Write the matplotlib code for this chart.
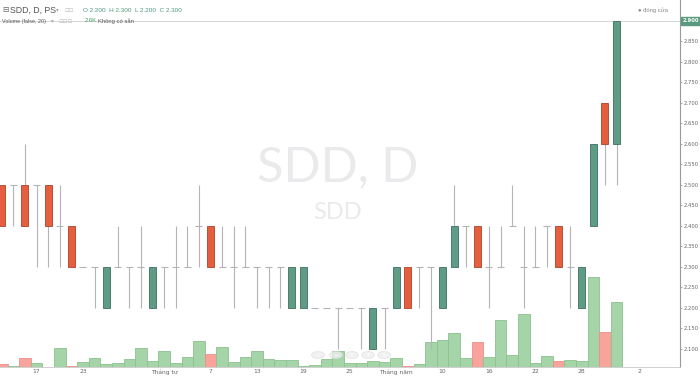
import matplotlib
matplotlib.use("Agg")
import matplotlib.pyplot as plt
from matplotlib.patches import Rectangle, Circle

# daily OHLC (one bar per trading session)
opens = [2.5, 2.5, 2.5, 2.5, 2.5, 2.4, 2.4, 2.3, 2.3, 2.2,
         2.3, 2.3, 2.3, 2.2, 2.3, 2.3, 2.3, 2.4, 2.4, 2.3,
         2.3, 2.3, 2.3, 2.3, 2.3, 2.2, 2.2, 2.2, 2.2, 2.2,
         2.2, 2.2, 2.1, 2.2, 2.2, 2.3, 2.3, 2.3, 2.2, 2.3,
         2.4, 2.4, 2.3, 2.3, 2.4, 2.3, 2.3, 2.4, 2.4, 2.3,
         2.2, 2.4, 2.7, 2.6]
highs = [2.5, 2.5, 2.6, 2.5, 2.5, 2.5, 2.4, 2.3, 2.3, 2.3,
         2.4, 2.3, 2.4, 2.3, 2.3, 2.4, 2.4, 2.5, 2.4, 2.4,
         2.4, 2.4, 2.3, 2.3, 2.3, 2.3, 2.3, 2.2, 2.2, 2.2,
         2.2, 2.2, 2.2, 2.2, 2.3, 2.3, 2.3, 2.3, 2.3, 2.5,
         2.4, 2.4, 2.4, 2.4, 2.5, 2.4, 2.4, 2.4, 2.4, 2.4,
         2.3, 2.6, 2.7, 2.9]
lows = [2.4, 2.4, 2.4, 2.3, 2.3, 2.3, 2.3, 2.3, 2.2, 2.2,
        2.3, 2.2, 2.2, 2.2, 2.2, 2.2, 2.3, 2.3, 2.3, 2.3,
        2.2, 2.3, 2.2, 2.2, 2.2, 2.2, 2.2, 2.2, 2.2, 2.1,
        2.2, 2.1, 2.1, 2.1, 2.2, 2.2, 2.2, 2.1, 2.2, 2.3,
        2.3, 2.3, 2.2, 2.3, 2.4, 2.2, 2.3, 2.3, 2.3, 2.2,
        2.2, 2.4, 2.5, 2.5]
closes = [2.4, 2.5, 2.4, 2.5, 2.4, 2.4, 2.3, 2.3, 2.3, 2.3,
          2.3, 2.3, 2.3, 2.3, 2.3, 2.3, 2.3, 2.4, 2.3, 2.3,
          2.3, 2.3, 2.3, 2.3, 2.3, 2.3, 2.3, 2.2, 2.2, 2.2,
          2.2, 2.2, 2.2, 2.2, 2.3, 2.2, 2.3, 2.3, 2.3, 2.4,
          2.4, 2.3, 2.3, 2.3, 2.4, 2.3, 2.3, 2.4, 2.3, 2.3,
          2.3, 2.6, 2.6, 2.9]
# volume in thousands
volumes = [1.1, 0.5, 3.6, 1.5, 0.2, 7.7, 0.4, 2.1, 3.6, 1.4,
           1.6, 3.3, 7.8, 2.6, 6.4, 1.8, 4.1, 10.7, 5.3, 8.2,
           2.1, 4.1, 6.4, 3.2, 2.9, 2.9, 0.5, 0.9, 3.3, 6.6,
           1.5, 1.6, 2.3, 2.1, 3.7, 0.5, 1.2, 10.1, 10.9, 13.7,
           3.6, 10.3, 4.0, 19.1, 4.9, 21.7, 1.5, 4.4, 2.3, 2.9,
           2.6, 36.9, 14.4, 26.5]

tick_pos = [3, 7, 14, 18, 22, 26, 30, 34, 38, 42, 46, 50, 55]
tick_labels = ['17', '23', 'Tháng tư', '7', '13', '19', '25', 'Tháng năm',
               '10', '16', '22', '28', '2']
price_ticks = [2.10, 2.15, 2.20, 2.25, 2.30, 2.35, 2.40, 2.45, 2.50,
               2.55, 2.60, 2.65, 2.70, 2.75, 2.80, 2.85]

UP = '#5f9c86'
UP_EDGE = '#3e6f5d'
DOWN = '#e55f3e'
DOWN_EDGE = '#a9432a'
WICK = '#b4b4b8'
VOL_UP = '#a6d4a9'
VOL_UP_EDGE = '#8cc290'
VOL_DOWN = '#f9a39d'
HDR_FONT = ['Liberation Sans', 'DejaVu Sans']

W, H = 700, 376
fig = plt.figure(figsize=(7.0, 3.76), dpi=100)
pos = [0, 9 / H, 680 / W, 367 / H]

ax_v = fig.add_axes(pos)
ax = fig.add_axes(pos, sharex=ax_v)
ax.patch.set_visible(False)

n = len(closes)
xs = list(range(n))

# volume
vcols = [VOL_UP if c >= o else VOL_DOWN for o, c in zip(opens, closes)]
vedges = [VOL_UP_EDGE if c >= o else '#ef8f88' for o, c in zip(opens, closes)]
ax_v.bar(xs, volumes, width=1.0, color=vcols, edgecolor=vedges, linewidth=0.6)
ax_v.set_ylim(0, 150)
ax_v.axis('off')

# watermark
ax.text(0.497, 0.545, 'SDD, D', transform=ax.transAxes, ha='center', va='center',
        fontsize=35, color='#eaeaed', family='Lato', zorder=0)
ax.text(0.497, 0.42, 'SDD', transform=ax.transAxes, ha='center', va='center',
        fontsize=17, color='#eaeaed', family='Lato', zorder=0)

# candles
bw = 0.6
for i, (o, h, l, c) in enumerate(zip(opens, highs, lows, closes)):
    if h > l:
        ax.vlines(i, l, h, color=WICK, linewidth=0.8, zorder=2)
    if o == c:
        ax.hlines(o, i - bw / 2, i + bw / 2, color=WICK, linewidth=0.8, zorder=2)
    else:
        up = c > o
        ax.add_patch(Rectangle((i - bw / 2, min(o, c)), bw, abs(c - o),
                               facecolor=UP if up else DOWN,
                               edgecolor=UP_EDGE if up else DOWN_EDGE,
                               linewidth=0.6, zorder=3))

# last price line
ax.axhline(closes[-1], color='#d0d0d4', linewidth=0.6, zorder=1)

ax.set_xlim(-0.147, 58.47)
ax.set_ylim(2.056, 2.951)

ax.yaxis.tick_right()
ax.set_yticks(price_ticks)
ax.set_yticklabels(['%.3f' % p for p in price_ticks])
ax.tick_params(axis='y', labelsize=3.8, colors='#8a8a8a', length=1.5, width=0.5,
               pad=1, labelcolor='#666666')
ax.set_xticks(tick_pos)
ax.set_xticklabels(tick_labels)
ax.tick_params(axis='x', labelsize=4.3, colors='#8a8a8a', length=0, pad=1.5,
               labelcolor='#666666')
for s in ['left', 'top']:
    ax.spines[s].set_visible(False)
ax.spines['right'].set_color('#9a9a9a')
ax.spines['right'].set_linewidth(0.8)
ax.spines['bottom'].set_color('#c8c8c8')
ax.spines['bottom'].set_linewidth(0.6)

# last price box
ax.annotate('%.3f' % closes[-1], xy=(1.0, closes[-1]), xycoords=('axes fraction', 'data'),
            xytext=(2, 0), textcoords='offset points', ha='left', va='center',
            fontsize=3.8, color='white', fontweight='bold',
            bbox=dict(boxstyle='square,pad=0.35', fc='#5a9a80', ec='#5a9a80'),
            annotation_clip=False)

# navigation buttons
for bx, s in zip([318, 336, 352, 368, 384], ['<', '−', 'c', '+', '>']):
    fig.patches.append(Circle((bx / W, 1 - 355 / H), 6.5 / W, transform=fig.transFigure,
                              facecolor='#eeeeee', edgecolor='#dddddd', alpha=0.8,
                              linewidth=0.5, zorder=5))
    fig.text(bx / W, 1 - 355 / H, s, ha='center', va='center', fontsize=4.5,
             color='#ffffff', zorder=6)

# header
fig.text(2 / W, 1 - 10 / H, '⊟', fontsize=5.5, color='#666666', va='center',
         family='DejaVu Sans')
fig.text(10 / W, 1 - 10 / H, 'SDD, D, PS', fontsize=6.3, color='#555555',
         va='center', family=HDR_FONT)
fig.text(56 / W, 1 - 10 / H, '▾', fontsize=4, color='#aaaaaa', va='center')
fig.text(64 / W, 1 - 10 / H, '▫▫', fontsize=5, color='#bbbbbb', va='center')
fig.text(83 / W, 1 - 10 / H, 'O 2.200  H 2.300  L 2.200  C 2.300', fontsize=4.6,
         color='#4e9a7a', va='center', family=HDR_FONT)
fig.text(2 / W, 1 - 21 / H, 'Volume (false, 20)', fontsize=3.9, color='#555555',
         va='center', family=HDR_FONT)
fig.text(51 / W, 1 - 21 / H, '▾', fontsize=4, color='#aaaaaa', va='center')
fig.text(58 / W, 1 - 21 / H, '▫▫▫', fontsize=5, color='#bbbbbb', va='center')
fig.text(85 / W, 1 - 21 / H, '2.6K', fontsize=4.2, color='#3f9a5c', va='center',
         family=HDR_FONT)
fig.text(98 / W, 1 - 21 / H, 'Không có sẵn', fontsize=4.2, color='#555555',
         va='center', family=HDR_FONT)
fig.text(668 / W, 1 - 10 / H, '● đóng cửa', fontsize=4.2, color='#888888',
         va='center', ha='right', family=HDR_FONT)

fig.savefig('out.png', dpi=100)
